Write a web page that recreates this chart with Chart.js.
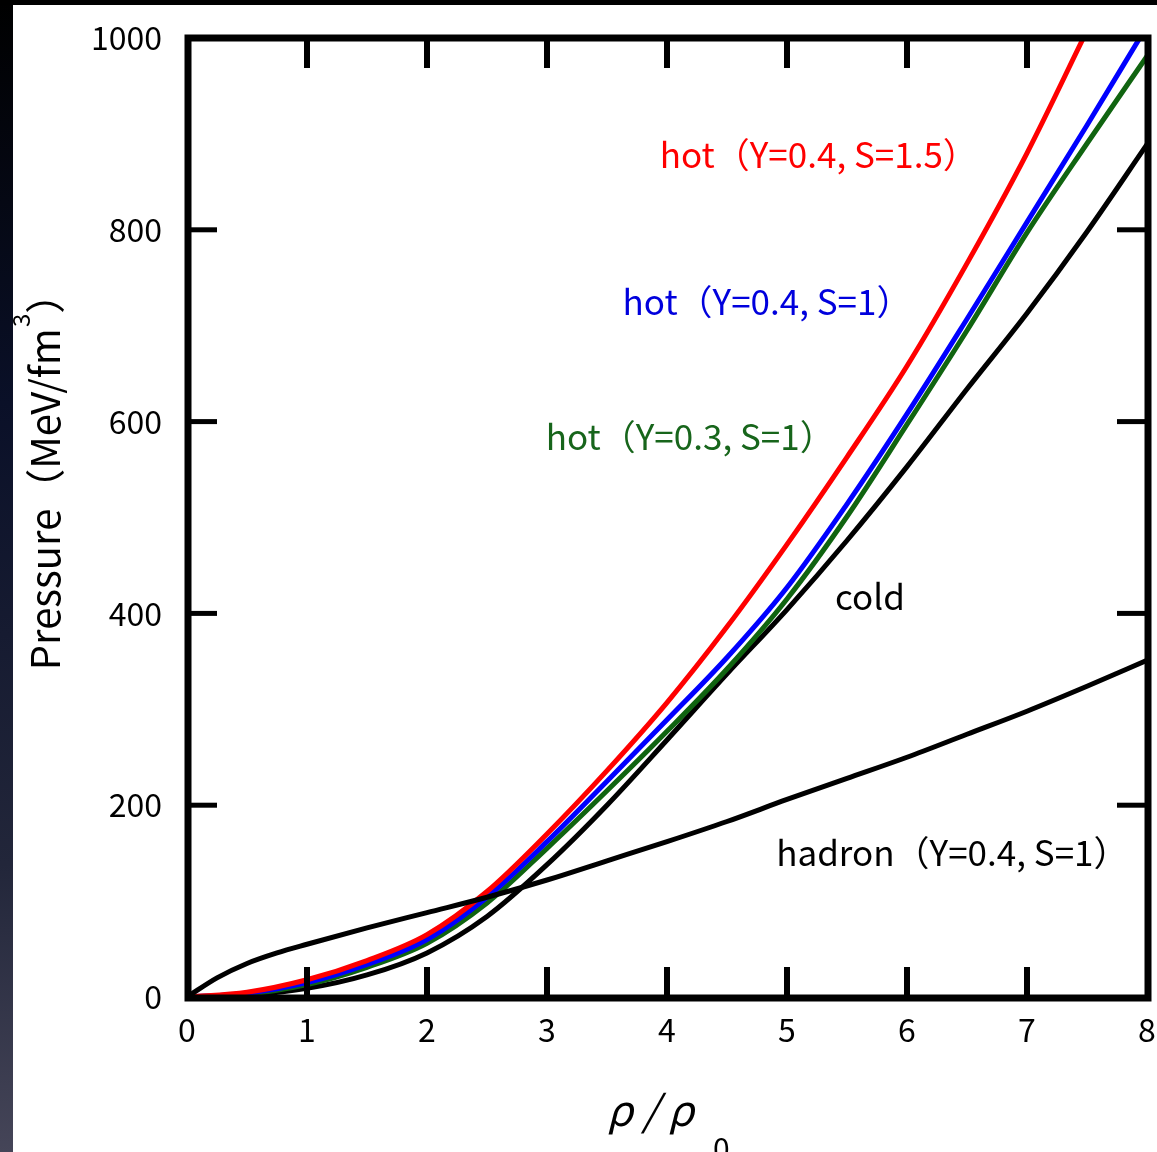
<!DOCTYPE html>
<html>
<head>
<meta charset="utf-8">
<script src="https://cdn.jsdelivr.net/npm/chart.js@4.4.1/dist/chart.umd.min.js"></script>
<style>
  html, body { margin: 0; padding: 0; background: #fff; }
  canvas { display: block; }
</style>
</head>
<body>
<canvas id="eosChart" width="1157" height="1152"></canvas>
<script>
// rho/rho0 and pressure (MeV/fm^3)
const rhoHotS15 = [0, 0.5, 1, 1.5, 2, 2.5, 3, 3.5, 4, 4.5, 5, 5.5, 6, 6.5, 7, 7.47];
const pHotS15   = [0, 5, 18, 38, 65, 110, 170, 236, 307, 386, 472, 563, 658, 765, 880, 1000];

const rhoHotY4 = [0, 0.5, 1, 1.5, 2, 2.5, 3, 3.5, 4, 4.5, 5, 5.5, 6, 6.5, 7, 7.5, 7.94];
const pHotY4   = [0, 4, 15, 34, 60, 104, 162, 225, 289, 354, 427, 514, 608, 707, 808, 909, 1000];

const rhoHotY3 = [0, 0.5, 1, 1.5, 2, 2.5, 3, 3.5, 4, 4.5, 5, 5.5, 6, 6.5, 7, 7.5, 8];
const pHotY3   = [0, 3, 13, 31, 56, 98, 155, 215, 277, 342, 415, 501, 597, 695, 797, 890, 981];

const rhoCold = [0, 0.5, 1, 1.5, 2, 2.5, 3, 3.5, 4, 4.5, 5, 5.5, 6, 6.5, 7, 7.5, 8];
const pCold   = [0, 2, 9, 23, 46, 84, 138, 200, 268, 337, 404, 476, 553, 634, 713, 798, 889];

const rhoHadron = [0, 0.25, 0.5, 0.75, 1, 1.5, 2, 2.5, 3, 3.5, 4, 4.5, 5, 5.5, 6, 6.5, 7, 7.5, 8];
const pHadron   = [0, 20, 35, 46, 55, 72, 88, 104, 122, 142, 162, 183, 206, 228, 250, 274, 298, 324, 351];

// curve names and where they sit (data coords)
const curveNames = ["hot（Y=0.4, S=1.5）", "hot（Y=0.4, S=1）", "hot（Y=0.3, S=1）", "cold", "hadron（Y=0.4, S=1）"];
const nameRho    = [3.94, 3.63, 2.99, 5.40, 4.91];
const nameP      = [878, 725, 584, 417, 150];
const nameColor  = ["#ff0000", "#0000dd", "#17651b", "#000000", "#000000"];

const FONT = '"Noto Sans CJK JP", "Noto Sans", sans-serif';

const pts = (xs, ys) => xs.map((x, i) => ({ x: x, y: ys[i] }));

const line = (label, xs, ys, color) => ({
  label: label,
  data: pts(xs, ys),
  borderColor: color,
  borderWidth: 5,
  pointRadius: 0,
  fill: false,
  cubicInterpolationMode: "monotone",
  clip: 0,
});

// white page, dark strips on top and left like the photo
const pageBg = {
  id: "pageBg",
  beforeDraw(chart) {
    const { ctx, width, height } = chart;
    ctx.save();
    ctx.fillStyle = "#fff";
    ctx.fillRect(0, 0, width, height);
    const g = ctx.createLinearGradient(0, 0, 0, height);
    g.addColorStop(0, "#000000");
    g.addColorStop(0.35, "#0a1028");
    g.addColorStop(0.75, "#22263a");
    g.addColorStop(1, "#454558");
    ctx.fillStyle = g;
    ctx.fillRect(0, 0, 13, height);
    ctx.fillStyle = "#000";
    ctx.fillRect(0, 0, width, 5);
    ctx.restore();
  },
};

// box frame with inward ticks on all four sides
const frame = {
  id: "frame",
  afterDatasetsDraw(chart) {
    const { ctx, chartArea: a, scales: { x, y } } = chart;
    ctx.save();
    ctx.strokeStyle = "#000";
    ctx.lineCap = "butt";
    ctx.lineWidth = 6;
    const seg = (x1, y1, x2, y2) => { ctx.beginPath(); ctx.moveTo(x1, y1); ctx.lineTo(x2, y2); ctx.stroke(); };
    x.ticks.forEach(t => {
      if (t.value <= x.min || t.value >= x.max) return;
      const px = x.getPixelForValue(t.value);
      seg(px, a.bottom, px, a.bottom - 30);
      seg(px, a.top, px, a.top + 30);
    });
    ctx.lineWidth = 5;
    y.ticks.forEach(t => {
      if (t.value <= y.min || t.value >= y.max) return;
      const py = y.getPixelForValue(t.value);
      seg(a.left, py, a.left + 30, py);
      seg(a.right, py, a.right - 30, py);
    });
    ctx.lineWidth = 7;
    ctx.strokeRect(a.left + 1, a.top, a.width, a.height + 1);

    // curve names
    ctx.font = "35px " + FONT;
    ctx.textAlign = "left";
    ctx.textBaseline = "middle";
    curveNames.forEach((s, i) => {
      ctx.fillStyle = nameColor[i];
      ctx.fillText(s, x.getPixelForValue(nameRho[i]), y.getPixelForValue(nameP[i]));
    });
    ctx.restore();
  },
};

// axis titles (superscript / subscript drawn by hand)
const titles = {
  id: "titles",
  afterDraw(chart) {
    const { ctx, chartArea: a } = chart;
    ctx.save();
    ctx.fillStyle = "#000";

    // y title
    ctx.translate(60, (a.top + a.bottom) / 2 - 45);
    ctx.rotate(-Math.PI / 2);
    ctx.textBaseline = "alphabetic";
    ctx.textAlign = "left";
    ctx.font = "40px " + FONT;
    const main = "Pressure（MeV/fm";
    const wMain = ctx.measureText(main).width;
    ctx.font = "24px " + FONT;
    const wSup = ctx.measureText("3").width;
    ctx.font = "40px " + FONT;
    const wEnd = ctx.measureText("）").width;
    let x0 = -(wMain + wSup + wEnd) / 2;
    ctx.fillText(main, x0, 0);
    ctx.font = "24px " + FONT;
    ctx.fillText("3", x0 + wMain + 1, -30);
    ctx.font = "40px " + FONT;
    ctx.fillText("）", x0 + wMain + wSup + 1, 0);
    ctx.setTransform(1, 0, 0, 1, 0, 0);

    // x title
    const cx = (a.left + a.right) / 2;
    ctx.font = "italic 42px " + FONT;
    ctx.textAlign = "left";
    ctx.textBaseline = "alphabetic";
    ctx.fillText("ρ / ρ", cx - 60, 1126);
    ctx.font = "30px " + FONT;
    ctx.fillText("0", cx + 46, 1160);
    ctx.restore();
  },
};

function build() {
  new Chart(document.getElementById("eosChart"), {
    type: "line",
    data: {
      datasets: [
        line("hadron (Y=0.4, S=1)", rhoHadron, pHadron, "#000000"),
        line("hot (Y=0.4, S=1.5)", rhoHotS15, pHotS15, "#ff0000"),
        line("hot (Y=0.4, S=1)", rhoHotY4, pHotY4, "#0000ff"),
        line("hot (Y=0.3, S=1)", rhoHotY3, pHotY3, "#106410"),
        line("cold", rhoCold, pCold, "#000000"),
      ],
    },
    options: {
      responsive: false,
      animation: false,
      layout: { padding: { top: 38, right: 10, left: 0, bottom: 0 } },
      plugins: { legend: { display: false }, tooltip: { enabled: false } },
      scales: {
        x: {
          type: "linear",
          min: 0,
          max: 8,
          afterFit(s) { s.height = 155; s.paddingLeft = 0; s.paddingRight = 0; },
          grid: { display: false, drawTicks: false },
          border: { display: false },
          ticks: { stepSize: 1, padding: 14, color: "#000", font: { size: 32, family: FONT }, maxRotation: 0 },
        },
        y: {
          min: 0,
          max: 1000,
          afterFit(s) { s.width = 187; s.paddingTop = 0; s.paddingBottom = 0; },
          grid: { display: false, drawTicks: false },
          border: { display: false },
          ticks: { stepSize: 200, padding: 25, color: "#000", font: { size: 32, family: FONT }, callback: v => String(v) },
        },
      },
    },
    plugins: [pageBg, frame, titles],
  });
}

if (document.fonts && document.fonts.load) {
  document.fonts.load('33px "Noto Sans CJK JP"').then(build, build);
} else {
  build();
}
</script>
</body>
</html>
